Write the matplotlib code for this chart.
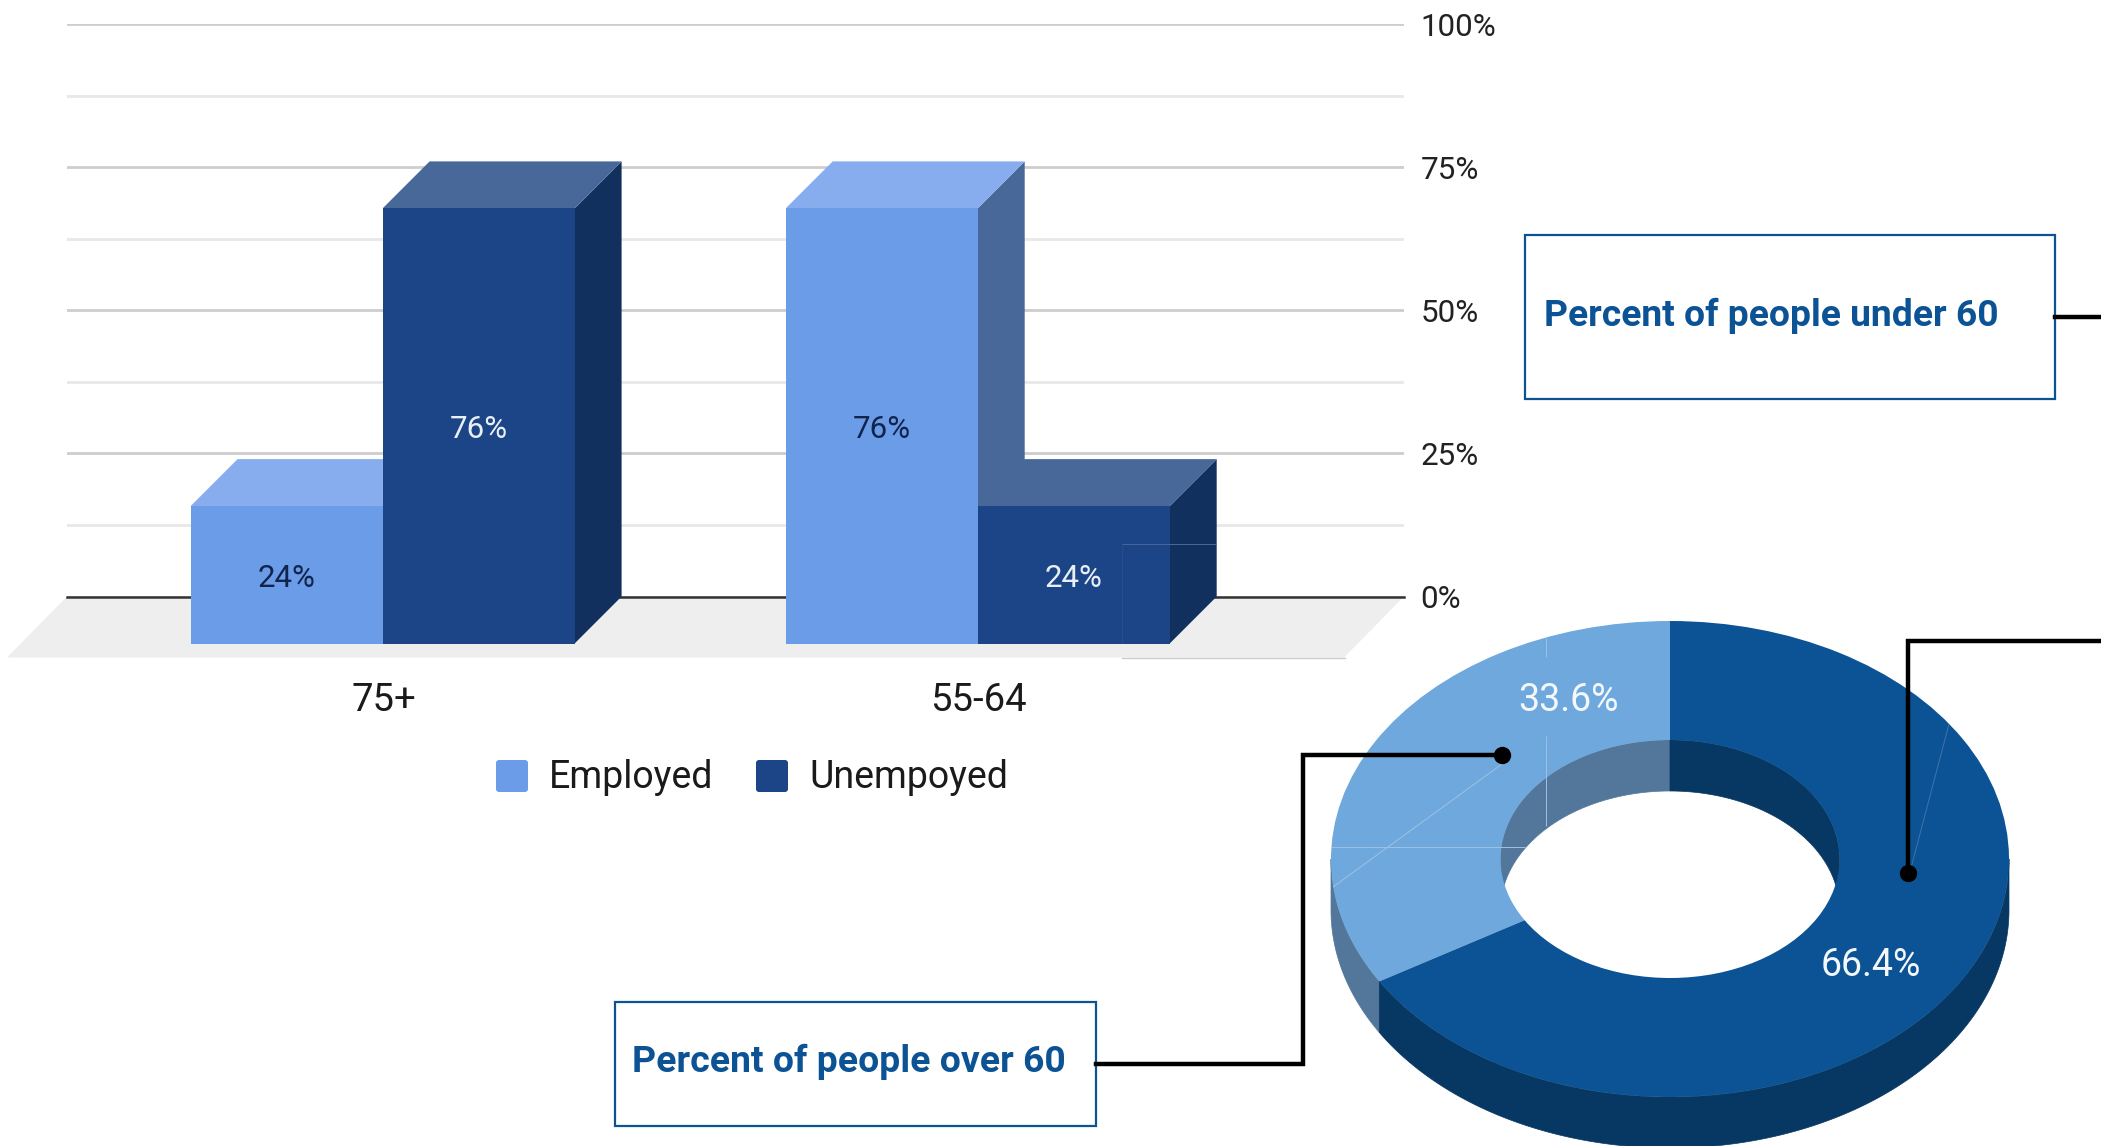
import numpy as np
import matplotlib
matplotlib.use("Agg")
import matplotlib.pyplot as plt
from matplotlib.patches import Polygon, FancyBboxPatch, Rectangle

plt.rcParams['font.family'] = ['Roboto', 'DejaVu Sans']

# bar chart data
age_groups = ["75+", "55-64"]
employed = [24, 76]
unemployed = [76, 24]
y_ticks = [0, 25, 50, 75, 100]
y_minor = [12.5, 37.5, 62.5, 87.5]

# donut data
over_60 = 33.6
under_60 = 66.4

W, H = 2101, 1146
fig = plt.figure(figsize=(W / 100, H / 100), dpi=100, facecolor="white")


def px_axes(left, top, right, bottom, **kw):
    # axes placed with pixel coordinates, origin at top left
    return fig.add_axes([left / W, 1 - bottom / H, (right - left) / W, (bottom - top) / H], **kw)


# ---- 3D bars ----
BLUE = "#6B9CE8"
BLUE_TOP = "#88ADEE"
BLUE_SIDE = "#49689A"
NAVY = "#1C4587"
NAVY_TOP = "#49689A"
NAVY_SIDE = "#12305E"

ax = px_axes(67, 24, 1404, 596.5, zorder=1)
unit_x = 595.1
unit_y = 572.5 / 100
ax.set_xlim((67 - 429.6) / unit_x, (1404 - 429.6) / unit_x)
ax.set_ylim(0, 100)

# the back wall is the axes itself, bars stand further forward
dx = 47 / unit_x
dy = 47 / unit_y
bar_w = 192 / unit_x

ax.set_facecolor("none")
for s in ax.spines.values():
    s.set_visible(False)
ax.yaxis.tick_right()
ax.set_yticks(y_ticks)
ax.set_yticklabels([f"{t}%" for t in y_ticks], fontsize=22.6, color="#222222")
ax.set_yticks(y_minor, minor=True)
ax.set_xticks([])
ax.tick_params(axis="y", which="both", length=0, pad=12)
ax.grid(True, axis="y", which="major", color="#CDCDCD", lw=2.0)
ax.grid(True, axis="y", which="minor", color="#E8E8E8", lw=2.0)
ax.set_axisbelow(True)

# floor
floor_dx = 60 / unit_x
floor_dy = 61 / unit_y
x0, x1 = ax.get_xlim()
ax.add_patch(Polygon([(x0, 0), (x1, 0), (x1 - floor_dx, -floor_dy), (x0 - floor_dx, -floor_dy)],
                     closed=True, fc="#EEEEEE", ec="none", clip_on=False, zorder=1.5))
ax.axhline(0, color="#333333", lw=1.8, zorder=1.8, clip_on=False)


def bar3d(left, value, front, top, side, z):
    right = left + bar_w
    # side and top faces first, the front goes over them
    ax.add_patch(Polygon([(right - dx, value - dy), (right, value), (right, 0), (right - dx, -dy)],
                         closed=True, fc=side, ec="none", clip_on=False, zorder=z))
    ax.add_patch(Polygon([(left - dx, value - dy), (left, value), (right, value), (right - dx, value - dy)],
                         closed=True, fc=top, ec="none", clip_on=False, zorder=z))
    ax.bar(left - dx, value, width=bar_w, bottom=-dy, align="edge", color=front,
           linewidth=0, clip_on=False, zorder=z + 0.1)


# value labels sit on the front faces, a little under the middle
label_drop = 4 / unit_y
for i in range(len(age_groups)):
    bar3d(i - bar_w, employed[i], BLUE, BLUE_TOP, BLUE_SIDE, 2 + i)
    bar3d(i, unemployed[i], NAVY, NAVY_TOP, NAVY_SIDE, 2.5 + i)

    ax.text(i - bar_w / 2 - dx, employed[i] / 2 - dy - label_drop, f"{employed[i]}%", ha="center", va="center",
            fontsize=22.5, color="#11244D", zorder=6)
    ax.text(i + bar_w / 2 - dx, unemployed[i] / 2 - dy - label_drop, f"{unemployed[i]}%", ha="center", va="center",
            fontsize=22.5, color="#E9EFF7", zorder=6)
    ax.text(i - dx + 1 / unit_x, -dy - 57 / unit_y, age_groups[i], ha="center", va="center",
            fontsize=27.5, color="#1A1A1A", zorder=6)


# ---- 3D donut ----
LIGHT = "#6FA8DC"
LIGHT_WALL = "#52779B"
DARK = "#0B5394"
DARK_WALL = "#073763"

dn = px_axes(1670 - 339, 859 - 238, 1670 + 339, 859 + 238, zorder=2)
depth = 51 / 238
hole = 0.5
split = 90 + 360 * over_60 / (over_60 + under_60)


def wall(a0, a1, radius, color):
    t = np.radians(np.linspace(a0, a1, 200))
    xs = radius * np.cos(t)
    ys = radius * np.sin(t)
    pts = np.r_[np.c_[xs, ys], np.c_[xs, ys - depth][::-1]]
    dn.add_patch(Polygon(pts, closed=True, fc=color, ec=color, lw=0.5, clip_on=False, zorder=1))


# outer wall on the lower half, hole wall on the upper half
wall(180, split, 1, LIGHT_WALL)
wall(split, 360, 1, DARK_WALL)
wall(90, 180, hole, LIGHT_WALL)
wall(0, 90, hole, DARK_WALL)

wedges, _ = dn.pie([over_60, under_60], colors=[LIGHT, DARK], startangle=90, radius=1,
                   wedgeprops={"width": 1 - hole, "linewidth": 0, "clip_on": False, "zorder": 2})
dn.set_aspect("auto")
dn.set_xlim(-1, 1)
dn.set_ylim(-1, 1)
dn.patch.set_visible(False)


# ---- callouts, legend and other page furniture in pixel coordinates ----
ov = fig.add_axes([0, 0, 1, 1], zorder=3)
ov.set_xlim(0, W)
ov.set_ylim(H, 0)
ov.axis("off")
ov.patch.set_visible(False)

# faint seams on the pasted pieces
seams = [
    ([1546, 1546], [638, 657], "#9CC2E6"),
    ([1546, 1546], [736, 826], "#9CC2E6"),
    ([1331, 1525], [847, 847], "#9CC2E6"),
    ([1502, 1333], [764, 887], "#9CC2E6"),
    ([1949, 1911], [724, 868], "#3E74AB"),
    ([1122, 1216], [544, 544], "#48689C"),
    ([1122, 1122], [544, 643], "#24508F"),
]
for xs, ys, c in seams:
    ov.plot(xs, ys, color=c, lw=0.7, solid_capstyle="butt")
ov.plot([1122, 1345], [657.5, 657.5], color="#CCCCCC", lw=1.0)

ov.text(1569, 700.5, f"{over_60}%", ha="center", va="center", fontsize=27, color="#F4F8FC")
ov.text(1871, 965.5, f"{under_60}%", ha="center", va="center", fontsize=27, color="#F4F8FC")

# legend
legend_items = [(496, BLUE, "Employed"), (756, NAVY, "Unempoyed")]
for lx, c, name in legend_items:
    ov.add_patch(FancyBboxPatch((lx + 2, 762), 28, 28, boxstyle="round,pad=2,rounding_size=3",
                                fc=c, ec="none"))
    ov.text(lx + 53, 777, name, ha="left", va="center", fontsize=27, color="#1A1A1A")

# text boxes
BOX = "#0B5394"
ov.add_patch(Rectangle((1524.5, 235), 530, 164, fc="white", ec=BOX, lw=1.6))
ov.text(1544, 316, "Percent of people under 60", ha="left", va="center",
        fontsize=26.8, fontweight="bold", color=BOX)
ov.add_patch(Rectangle((615, 1002), 481, 124, fc="white", ec=BOX, lw=1.6))
ov.text(632.5, 1062, "Percent of people over 60", ha="left", va="center",
        fontsize=26.9, fontweight="bold", color=BOX)

# connector lines
ov.plot([1502, 1302.5, 1302.5, 1096], [755, 755, 1064, 1064], color="black", lw=3.2,
        solid_joinstyle="miter")
ov.plot([1908, 1908, W], [873, 641, 641], color="black", lw=3.2, solid_joinstyle="miter")
ov.plot([2055, W], [317, 317], color="black", lw=3.2)
ov.plot([1502, 1908], [755, 873], "o", color="black", ms=12.5, mew=0)

fig.savefig("out.png", dpi=100)
